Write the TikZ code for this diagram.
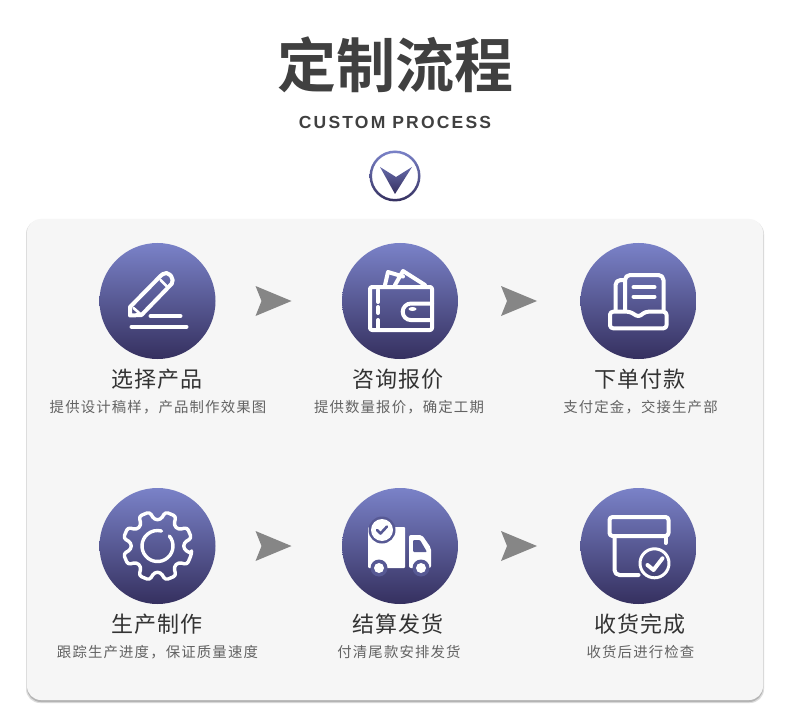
\documentclass[tikz,border=0pt]{standalone}
\usepackage{fontspec}
\setmainfont{Noto Sans CJK SC}[BoldFont={Noto Sans CJK SC Bold}]
\newfontfamily\latinfont{Liberation Sans}[LetterSpace=12.5]
\newfontfamily\titlefont{Noto Sans CJK SC}[LetterSpace=4]
\newfontfamily\descfont{Noto Sans CJK SC}[LetterSpace=8]
\usetikzlibrary{positioning}
\definecolor{flowTop}{HTML}{7a82c8}
\definecolor{flowBot}{HTML}{35305f}
\definecolor{flowPanel}{HTML}{f6f6f6}
\definecolor{flowShade}{HTML}{b4b4b4}
\definecolor{flowArrow}{HTML}{868686}
\definecolor{flowHead}{HTML}{404040}
\definecolor{flowName}{HTML}{333333}
\definecolor{flowDesc}{HTML}{636363}
\tikzset{
  stepdisc/.style={circle, minimum size=116pt, inner sep=0pt, top color=flowTop, bottom color=flowBot},
  stepname/.style={font=\fontsize{22}{25}\selectfont\titlefont, text=flowName, inner sep=0pt},
  stepdesc/.style={font=\fontsize{14.4}{17}\selectfont\descfont, text=flowDesc, inner sep=0pt},
  nextarrow/.style={fill=flowArrow},
  iconline/.style={draw=white, line width=4pt, line cap=round, line join=round},
  iconfill/.style={fill=white},
  iconcut/.style={fill=flowTop!50!flowBot},
}
\begin{document}
\begin{tikzpicture}[x=1pt,y=-1pt]
  \useasboundingbox (0,0) rectangle (790,722);
  \fill[white] (0,0) rectangle (790,722);
  % heading
  \node[font=\fontsize{59}{64}\selectfont\bfseries, text=flowHead, inner sep=0pt] (heading) at (395,65) {定制流程};
  \node[font=\fontsize{17.5}{20}\selectfont\latinfont\bfseries, text=flowHead, inner sep=0pt] (subheading) at (395,122) {CUSTOM PROCESS};
  \shade[even odd rule, top color=flowTop, bottom color=flowBot] (395,176) circle (25.5) (395,176) circle (23);
  \shade[top color=flowTop!70!flowBot, bottom color=flowBot] (380,167) -- (396,177) -- (412,167) -- (395,194) -- cycle;
  % panel
  \fill[flowShade!45, rounded corners=14pt] (26,220) rectangle (764,703);
  \fill[flowShade, rounded corners=14pt] (27,221) rectangle (763,702);
  \fill[flowPanel, rounded corners=14pt] (27,219) rectangle (763,700);
  % steps
  \foreach \nm/\cx/\cy/\lx/\dx/\name/\desc in {
      pick/157.5/301/157/158/选择产品/提供设计稿样，产品制作效果图,
      quote/400/301/398/399/咨询报价/提供数量报价，确定工期,
      order/638.5/301/640/640.5/下单付款/支付定金，交接生产部,
      make/157.5/546/157/157.5/生产制作/跟踪生产进度，保证质量速度,
      ship/400/546/398/399/结算发货/付清尾款安排发货,
      done/638.5/546/640/640.5/收货完成/收货后进行检查}{
    \node[stepdisc] (disc\nm) at (\cx,\cy) {};
    \node[stepname] (name\nm) at (\lx,\cy+78) {\name};
    \node[stepdesc] (desc\nm) at (\dx,\cy+106) {\desc};
  }
  % arrows between the steps
  \foreach \ax/\ay in {255.5/301,501/301,255.5/546,501/546}{
    \fill[nextarrow,shift={(\ax,\ay)}] (0,-15) -- (36,0) -- (0,15) -- (6,0) -- cycle;
  }
  % pencil
  \begin{scope}[shift={(discpick.center)}]
    \draw[iconline] (-27.5,6) -- (3,-25) [rounded corners=5pt] -- (9,-30) -- (17,-21) [sharp corners] -- (14.5,-17.5) -- (-16,14) -- (-27.5,14.5) -- cycle;
    \draw[iconline,line width=2.6pt] (3,-21) -- (10,-14);
    \draw[iconline,line width=2.6pt] (-24,7) -- (-16,14);
    \draw[iconline] (-7,15) -- (23,15);
    \draw[iconline] (-26,25.7) -- (29,25.7);
  \end{scope}
  % wallet
  \begin{scope}[shift={(discquote.center)}]
    \draw[iconline] (-15,-16) -- (-12,-29) -- (3,-24.5);
    \draw[iconline] (-5,-16) -- (3,-30) -- (25,-16);
    \draw[iconline,rounded corners=2pt] (-30,-14) rectangle (32,29);
    \draw[iconline] (32,2.5) -- (11,2.5) arc[start angle=-90,end angle=-270,radius=8.3] -- (32,19);
    \fill[iconfill] (12.5,8) ellipse (4 and 2);
    \draw[iconline] (-22,-11) -- (-22,1);
    \draw[iconline] (-22,6) -- (-22,12);
    \draw[iconline] (-22,19) -- (-22,27);
  \end{scope}
  % inbox
  \begin{scope}[shift={(discorder.center)}]
    \draw[iconline,rounded corners=3pt] (-28.5,10.7) -- (-8.5,10.7) -- (0,16) -- (7,10.7) -- (28,10.7) -- (28,27.3) -- (-28.5,27.3) -- cycle;
    \draw[iconline,rounded corners=5pt] (-13.5,9) -- (-13.5,-26) -- (25,-26) -- (25,9);
    \draw[iconline,rounded corners=5pt] (-23,9) -- (-23,-21) -- (-13.5,-21);
    \draw[iconline] (-5,-13.7) -- (16,-13.7);
    \draw[iconline] (-5,-4.3) -- (16,-4.3);
  \end{scope}
  % gear
  \begin{scope}[shift={(discmake.center)}]
    \draw[iconline,line width=3.4pt,rounded corners=3pt] (13:35)
      \foreach \a in {0,45,...,315}{
        -- (\a+13:35) -- (\a+32:35) -- (\a+38:26.5) -- (\a+52:26.5)
      } -- cycle;
    \draw[iconline,line width=3.4pt] (-40:15.5) arc[start angle=-40,end angle=285,radius=15.5];
  \end{scope}
  % truck
  \begin{scope}[shift={(discship.center)}]
    \fill[iconfill,rounded corners=1pt] (-32,-19) rectangle (5,22);
    \fill[iconfill,rounded corners=2pt] (9,-11) -- (22,-11) -- (31,2) -- (31,22) -- (9,22) -- cycle;
    \fill[iconcut,rounded corners=1pt] (13,-6) -- (20,-6) -- (27,6) -- (13,6) -- cycle;
    \fill[iconcut] (-18,-16) circle (13.5);
    \fill[iconfill] (-18,-16) circle (11);
    \draw[draw=flowTop!50!flowBot,line width=2.6pt,line cap=round,line join=round] (-23,-16) -- (-19.5,-12.5) -- (-13,-19.5);
    \fill[iconcut] (-21,22) circle (8.5);
    \fill[iconfill] (-21,22) circle (5);
    \fill[iconcut] (21,22) circle (8.5);
    \fill[iconfill] (21,22) circle (5);
  \end{scope}
  % box with check
  \begin{scope}[shift={(discdone.center)}]
    \draw[iconline,rounded corners=3pt] (-29,-29) rectangle (30,-10);
    \draw[iconline,rounded corners=5pt] (-24,-10) -- (-24,29) -- (0,29);
    \draw[iconline] (27,-10) -- (27,-3);
    \draw[iconline,line width=3pt] (16,17.3) circle (14.5);
    \draw[iconline] (9,19) -- (15,24) -- (24,12.3);
  \end{scope}
\end{tikzpicture}
\end{document}
